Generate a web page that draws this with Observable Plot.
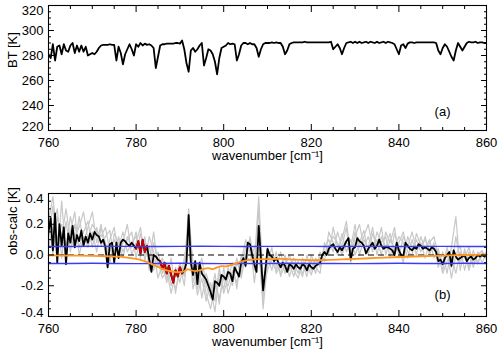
<!DOCTYPE html>
<html><head><meta charset="utf-8">
<script src="https://cdn.jsdelivr.net/npm/d3@7"></script>
<script src="https://cdn.jsdelivr.net/npm/@observablehq/plot@0.6"></script>
<style>
html,body{margin:0;padding:0;background:#fff;}
#chart svg{display:block;}
</style></head><body><div id="chart"></div>
<script>
const FONT = "'Liberation Sans', Arial, Helvetica, sans-serif";

// spectral grid of the measured spectra
const wnStart = 760, wnStep = 0.5;
// (a) brightness temperature [K]
const bt = [
 281,278,289,276,287,288,281,289,284,283,
 288,290,282,288,283,288,283,287,280,281,
 282,281,283,286,288,288.5,288.5,288.5,289,288.5,
 288.5,276,287,282,273,281,285,289,285,280,
 289,287,290,288,289.5,288.5,289,288,286,270,
 279,288,289,289,289.5,289.5,289.5,289.5,290,290,
 289.5,292,285,274,267,284,286,283,285,288,
 290,272,278,285,284,281,275,265,278,286,
 287,288,290,289,289.5,289,276,281,288,290,
 290,289,290,289,289,286,279,285,289,290,
 290,290,290.5,290,290.5,290,290,287,281,284,
 289,290,290.5,290.5,290.5,290.5,290.5,291,290.5,290.5,
 290.5,290.5,290.5,290.5,290.5,290.5,290.5,290.5,290.5,291,
 285,287,289,286,281,286,290,290.5,291,290,
 291,290,291,290,290.5,291,290,291,290.5,290,
 291,290,290.5,291,290,291,290.5,290,289,285,
 281,288,289,286,289.5,290.5,290.5,290,290.5,290.5,
 290.5,290.5,290.5,290.5,290.5,290.5,290.5,290,284,281,
 286,289,287,283,279,276,284,290,287,284,
 287,290,291,290.5,290.5,291,290,290.5,290.5,290,
 290
];
// (b) obs-calc [K], mean (black)
const obsCalc = [
 0.15,0.24,0.03,0.27,-0.05,0.20,0.06,0.18,-0.06,0.14,
 0.08,0.19,0.05,0.13,0.09,0.16,0.06,0.12,0.08,0.14,
 0.10,0.15,0.13,0.12,0.08,0.10,0.05,-0.08,0.07,0.08,
 -0.05,0.08,-0.02,0.08,0.10,0.09,0.07,0.06,0.08,0.06,
 0.04,0.09,0.01,0.10,0.02,0.06,-0.03,-0.11,0.00,-0.01,
 -0.03,-0.04,-0.09,-0.05,-0.12,-0.07,-0.13,-0.18,-0.10,-0.14,
 -0.08,-0.12,-0.10,-0.05,0.26,-0.05,-0.13,-0.04,-0.19,-0.05,
 -0.12,-0.14,-0.16,-0.20,-0.24,-0.29,-0.17,-0.18,-0.20,-0.13,
 -0.14,-0.16,-0.11,-0.12,-0.17,-0.08,-0.11,-0.14,-0.05,-0.02,
 -0.07,0.08,0.07,0.00,-0.06,-0.11,0.19,-0.02,-0.23,-0.10,
 0.04,0.00,-0.01,-0.04,-0.02,-0.05,-0.08,-0.05,-0.07,-0.11,
 -0.06,-0.07,-0.09,-0.06,-0.08,-0.09,-0.06,-0.07,-0.10,-0.06,
 -0.08,-0.09,-0.07,-0.06,-0.05,0.00,0.02,0.00,0.04,0.06,
 0.07,0.04,0.02,0.05,0.03,0.06,0.09,0.11,-0.03,0.04,
 0.05,0.11,0.09,0.08,0.06,0.01,0.04,0.06,0.08,0.04,
 0.06,0.10,0.06,0.04,0.05,0.05,0.04,0.03,0.00,0.08,
 0.03,0.00,-0.01,0.08,0.06,0.04,0.03,0.05,0.04,0.07,
 0.06,0.04,0.05,0.04,0.03,0.05,0.04,0.02,-0.04,-0.03,
 -0.06,-0.02,0.00,0.02,-0.07,0.03,-0.01,-0.03,-0.02,-0.01,
 0.00,-0.04,-0.02,-0.01,-0.03,-0.02,0.00,-0.01,0.00,-0.01,
 0.00
];
// wavenumber ranges drawn in red
const redRanges = [[780, 782.5], [785.5, 790.5]];

// individual obs-calc spectra (grey), 1 cm-1 grid
const grayStart = 760, grayStep = 1;
const gray1 = [
 0.22,0.38,0.10,0.20,0.05,0.25,0.12,0.18,0.28,0.10,
 0.20,0.15,0.12,0.18,0.02,0.10,0.05,0.15,0.02,0.08,
 0.12,0.05,0.10,-0.05,0.15,-0.08,-0.02,-0.15,-0.10,-0.22,
 -0.12,-0.08,0.30,-0.10,-0.22,-0.10,-0.25,-0.35,-0.20,-0.28,
 -0.15,-0.20,-0.10,-0.18,-0.05,0.10,0.02,-0.10,0.30,-0.30,
 0.05,-0.05,-0.10,0.02,-0.12,-0.05,-0.14,-0.04,-0.12,-0.06,
 -0.13,-0.02,-0.08,0.05,0.10,0.02,0.15,0.05,0.18,-0.05,
 0.12,0.20,0.05,0.12,0.02,0.15,0.08,0.12,-0.02,0.14,
 0.05,-0.05,0.12,0.04,0.10,0.02,0.12,0.00,0.08,-0.08,
 0.02,-0.12,0.05,0.25,-0.10,0.04,-0.08,0.03,-0.06,0.02,
 -0.02
];
const gray2 = [
 0.05,0.18,0.30,-0.02,0.22,0.02,0.20,0.05,0.15,0.22,
 0.05,0.18,0.06,0.12,0.16,-0.04,0.12,0.02,0.10,0.15,
 -0.02,0.14,0.00,0.06,-0.10,0.02,-0.12,-0.05,-0.20,-0.08,
 -0.18,-0.02,0.15,-0.18,-0.05,-0.28,-0.12,-0.22,-0.37,-0.12,
 -0.22,-0.08,-0.20,-0.05,-0.12,0.05,0.10,-0.18,0.05,-0.35,
 -0.05,0.05,-0.12,-0.06,-0.02,-0.14,-0.05,-0.12,-0.02,-0.10,
 -0.04,-0.12,0.02,-0.04,0.15,0.08,0.00,0.14,0.02,0.10,
 0.00,0.08,0.16,0.00,0.14,0.06,0.18,0.00,0.10,0.04,
 0.12,0.08,-0.02,0.10,0.00,0.12,0.04,0.10,-0.02,0.04,
 -0.10,0.02,-0.15,0.00,0.06,-0.10,0.02,-0.08,0.02,-0.05,
 0.01
];
const gray3 = [
 0.30,0.00,0.25,0.12,0.30,0.10,0.05,0.25,0.08,0.18,
 0.28,0.08,0.20,0.00,0.10,0.18,0.00,0.08,0.20,0.00,
 0.08,0.18,-0.04,0.12,0.02,-0.15,-0.06,-0.18,-0.02,-0.25,
 -0.05,-0.14,0.20,-0.05,-0.26,-0.15,-0.30,-0.18,-0.30,-0.08,
 -0.25,-0.15,-0.05,-0.22,0.00,-0.08,0.12,-0.05,0.38,-0.18,
 0.00,-0.10,0.02,-0.14,-0.06,0.00,-0.10,-0.15,-0.05,-0.14,
 0.00,-0.08,-0.12,0.08,0.00,0.18,0.05,0.10,0.22,0.00,
 0.15,0.05,0.12,0.20,0.05,0.10,0.00,0.15,0.08,0.18,
 -0.02,0.12,0.05,0.15,0.04,0.08,-0.02,0.08,0.12,0.00,
 -0.06,0.05,-0.08,0.12,-0.04,0.02,-0.10,0.00,-0.04,-0.01,
 0.02
];
const gray4 = [
 0.10,0.32,-0.05,0.35,0.00,0.15,0.28,0.00,0.12,0.05,
 0.15,0.02,0.18,0.08,-0.06,0.14,0.08,-0.02,0.12,0.05,
 0.15,-0.02,0.12,-0.10,0.08,-0.04,-0.15,-0.10,-0.25,-0.12,
 -0.06,-0.20,0.10,-0.22,-0.12,-0.02,-0.20,-0.28,-0.12,-0.32,
 -0.08,-0.25,-0.15,-0.02,-0.15,0.00,-0.04,0.05,0.12,-0.22,
 -0.10,-0.02,-0.06,-0.12,0.00,-0.10,-0.02,-0.08,-0.14,0.00,
 -0.10,-0.05,-0.02,0.00,0.06,0.12,0.08,0.00,0.08,0.05,
 0.20,0.00,0.10,0.05,0.18,0.00,0.12,0.05,0.14,0.00,
 0.08,0.15,0.02,0.00,0.14,0.06,0.10,0.02,0.05,0.02,
 -0.12,-0.04,0.00,-0.12,0.02,-0.02,0.05,-0.06,0.00,0.03,
 -0.03
];
const grays = [gray1, gray2, gray3, gray4];

// uncertainty envelope (blue)
const blueX = [760,765,770,775,780,785,790,795,800,805,810,815,820,825,830,835,840,845,850,855,860];
const blueUpper = [0.055,0.055,0.057,0.056,0.056,0.055,0.056,0.057,0.056,0.055,0.056,0.056,0.056,0.055,0.056,0.056,0.055,0.056,0.056,0.055,0.055];
const blueLower = [-0.055,-0.055,-0.054,-0.055,-0.056,-0.055,-0.054,-0.055,-0.056,-0.055,-0.055,-0.054,-0.055,-0.055,-0.056,-0.055,-0.054,-0.055,-0.055,-0.054,-0.055];

// smooth bias (orange)
const orangeX = [760,765,770,773,776,778,780,781,782,783,784,785,786,787,788,789,790,791,791.7,792.5,793.5,794.5,795.5,796.5,797.5,798.5,799.5,800.5,802,803.5,805,807,810,813,815,818,821,824,827,830,835,840,845,850,855,860];
const orangeY = [-0.003,-0.004,-0.006,-0.008,-0.011,-0.017,-0.025,-0.031,-0.041,-0.052,-0.065,-0.078,-0.09,-0.1,-0.107,-0.111,-0.112,-0.105,-0.093,-0.098,-0.105,-0.1,-0.09,-0.086,-0.092,-0.081,-0.072,-0.074,-0.062,-0.048,-0.036,-0.029,-0.027,-0.025,-0.029,-0.032,-0.034,-0.032,-0.029,-0.025,-0.019,-0.013,-0.008,-0.004,0.0,0.003];

// axes
const xMajor = [760,780,800,820,840,860];
const xTickLabels = ["760","780","800","820","840","860"];
const xMinor = [765,770,775,785,790,795,805,810,815,825,830,835,845,850,855];
const xTitle = "wavenumber [cm\u207B\u00B9]";
const btMajor = [220,240,260,280,300,320];
const btLabels = ["220","240","260","280","300","320"];
const btMinor = [225,230,235,245,250,255,265,270,275,285,290,295,305,310,315];
const ocMajor = [-0.4,-0.2,0,0.2,0.4];
const ocLabels = ["-0.4","-0.2","0.0","0.2","0.4"];
const ocMinor = [-0.35,-0.3,-0.25,-0.15,-0.1,-0.05,0.05,0.1,0.15,0.25,0.3,0.35];

// ---- build tables ----
const btData = bt.map((v, i) => ({x: wnStart + i * wnStep, y: v}));
const ocData = obsCalc.map((v, i) => ({x: wnStart + i * wnStep, y: v}));
const redData = redRanges.flatMap(([a, b], k) => ocData.filter(d => d.x >= a && d.x <= b).map(d => ({...d, k})));
const grayData = grays.flatMap((arr, k) => arr.map((v, i) => ({x: grayStart + i * grayStep, y: v, k})));
const upperData = blueX.map((x, i) => ({x, y: blueUpper[i]}));
const lowerData = blueX.map((x, i) => ({x, y: blueLower[i]}));
const orangeData = orangeX.map((x, i) => ({x, y: orangeY[i]}));

function tick(anchor, ticks, size) {
  const o = {anchor, ticks, tickSize: -size, tickFormat: () => "", label: null, strokeWidth: 1};
  return (anchor === "top" || anchor === "bottom") ? Plot.axisX(o) : Plot.axisY(o);
}

function panel({height, marginTop, marginBottom, yDomain, yMajor, yMinor, yLabels, yTitle, tag, tagDy, marks}) {
  const n = yMajor.length;
  return Plot.plot({
    width: 500, height, marginTop, marginBottom, marginLeft: 48, marginRight: 14,
    style: {fontFamily: FONT, fontSize: "13px", background: "#fff", color: "#000", overflow: "visible"},
    x: {domain: [760, 860]},
    y: {domain: yDomain},
    marks: [
      ...marks,
      Plot.frame({stroke: "#000", strokeWidth: 1.1}),
      tick("bottom", xMajor, 6), tick("bottom", xMinor, 3),
      tick("top", xMajor, 6), tick("top", xMinor, 3),
      tick("left", yMajor, 6), tick("left", yMinor, 3),
      tick("right", yMajor, 6), tick("right", yMinor, 3),
      Plot.text(xMajor, {x: d => d, text: (d, i) => xTickLabels[i], frameAnchor: "bottom", lineAnchor: "top", dy: 7, fontSize: 13}),
      Plot.text(yMajor.slice(1, n - 1), {y: d => d, text: (d, i) => yLabels[i + 1], frameAnchor: "left", textAnchor: "end", dx: -5, fontSize: 13}),
      Plot.text([yMajor[0]], {y: d => d, text: () => yLabels[0], frameAnchor: "left", textAnchor: "end", lineAnchor: "bottom", dx: -5, fontSize: 13}),
      Plot.text([yMajor[n - 1]], {y: d => d, text: () => yLabels[n - 1], frameAnchor: "left", textAnchor: "end", lineAnchor: "top", dx: -5, fontSize: 13}),
      Plot.text([xTitle], {text: d => d, frameAnchor: "bottom", lineAnchor: "top", dy: 20.5, fontSize: 13}),
      Plot.text([yTitle], {text: d => d, frameAnchor: "left", rotate: -90, dx: -36, fontSize: 13}),
      Plot.text([tag], {text: d => d, frameAnchor: "bottom-right", dx: -36, dy: tagDy, fontSize: 13})
    ]
  });
}

const panelA = panel({
  height: 176, marginTop: 5, marginBottom: 46,
  yDomain: [220, 320], yMajor: btMajor, yMinor: btMinor, yLabels: btLabels,
  yTitle: "BT [K]", tag: "(a)", tagDy: -15,
  marks: [
    Plot.line(btData, {x: "x", y: "y", stroke: "#000", strokeWidth: 1.8, clip: true})
  ]
});

const panelB = panel({
  height: 177, marginTop: 17, marginBottom: 37,
  yDomain: [-0.4, 0.4], yMajor: ocMajor, yMinor: ocMinor, yLabels: ocLabels,
  yTitle: "obs-calc [K]", tag: "(b)", tagDy: -18,
  marks: [
    Plot.line(grayData, {x: "x", y: "y", z: "k", stroke: "#c8c8c8", strokeWidth: 1.2, clip: true}),
    Plot.ruleY([0], {stroke: "#000", strokeWidth: 1, strokeDasharray: "6,4"}),
    Plot.line(ocData, {x: "x", y: "y", stroke: "#000", strokeWidth: 1.8, clip: true}),
    Plot.line(redData, {x: "x", y: "y", z: "k", stroke: "#c80000", strokeWidth: 1.8, clip: true}),
    Plot.line(upperData, {x: "x", y: "y", stroke: "#3c3cf5", strokeWidth: 1.4}),
    Plot.line(lowerData, {x: "x", y: "y", stroke: "#3c3cf5", strokeWidth: 1.4}),
    Plot.line(orangeData, {x: "x", y: "y", stroke: "#ff9620", strokeWidth: 1.8, curve: "catmull-rom"})
  ]
});

const chart = document.getElementById("chart");
chart.appendChild(panelA);
chart.appendChild(panelB);
</script>
</body></html>
